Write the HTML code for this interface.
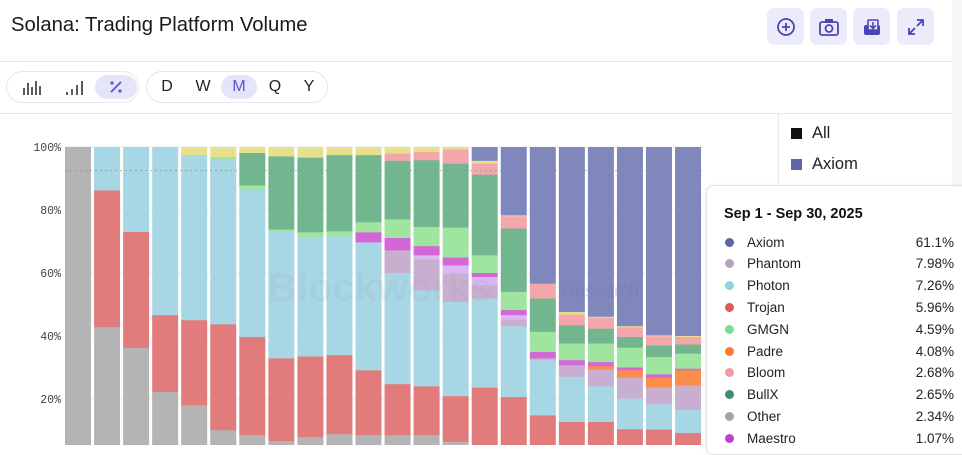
<!DOCTYPE html>
<html><head><meta charset="utf-8">
<style>
*{box-sizing:border-box;margin:0;padding:0}
body{width:962px;height:445px;overflow:hidden;background:#fff;font-family:"Liberation Sans",sans-serif;position:relative}
.abs{position:absolute}
.title{left:11px;top:14px;font-size:20.3px;color:#1a1a1a}
.ibtn{top:8px;width:37px;height:37px;border-radius:7px;background:#ebebfb;display:flex;align-items:center;justify-content:center}
.pill{top:71px;height:32px;border:1px solid #e6e6ee;border-radius:16px;display:flex;align-items:center}
.pi{height:24px;border-radius:12px;display:flex;align-items:center;justify-content:center;font-size:16px;color:#222}
.sel{background:#e5e5fa;color:#5a56c8}
.tt{left:706px;top:185px;width:270px;height:270px;background:#fff;border:1px solid #e4e4e4;border-radius:8px;box-shadow:0 1px 6px rgba(0,0,0,.08)}
.row{position:absolute;left:18px;width:229px;font-size:13.5px;color:#222;height:20px;display:flex;align-items:center}
.row .d{width:9px;height:9px;border-radius:50%;margin-right:13px}
.row .v{margin-left:auto}
</style></head><body>
<div class="abs title">Solana: Trading Platform Volume</div>
<div class="abs ibtn" style="left:767px"><svg width="20" height="20"><circle cx="10" cy="10" r="8" fill="none" stroke="#4a45b5" stroke-width="1.8"/><path d="M10 6v8M6 10h8" stroke="#4a45b5" stroke-width="1.8"/></svg></div>
<div class="abs ibtn" style="left:810px"><svg width="22" height="20"><rect x="2" y="5" width="18" height="13" rx="2" fill="none" stroke="#4a45b5" stroke-width="1.8"/><rect x="7" y="2" width="8" height="4" fill="#4a45b5"/><circle cx="11" cy="11.5" r="3.5" fill="none" stroke="#4a45b5" stroke-width="1.8"/></svg></div>
<div class="abs ibtn" style="left:853px"><svg width="22" height="20"><rect x="3" y="8" width="16" height="10" rx="2" fill="#4a45b5"/><rect x="7" y="3" width="10" height="10" rx="1" fill="#ebebfb" stroke="#4a45b5" stroke-width="1.6"/><path d="M12 5v6M9 8.5l3 3 3-3" stroke="#4a45b5" stroke-width="1.6" fill="none"/></svg></div>
<div class="abs ibtn" style="left:897px"><svg width="20" height="20"><path d="M11 3h6v6M17 3l-6 6M9 17H3v-6M3 17l6-6" stroke="#4a45b5" stroke-width="1.8" fill="none"/></svg></div>
<div class="abs" style="left:0;top:61px;width:952px;height:1px;background:#e8e8e8"></div>
<div class="abs" style="left:0;top:113px;width:952px;height:1px;background:#e8e8e8"></div>
<div class="abs" style="left:952px;top:0;width:10px;height:445px;background:#f7f7f7"></div>
<div class="abs pill" style="left:6px;width:133px">
 <div class="pi" style="width:38px;margin-left:6px"><svg width="20" height="16"><path d="M2 16V9M6 16V4M10 16V8M14 16V2M18 16V7" stroke="#333" stroke-width="1.6"/></svg></div>
 <div class="pi" style="width:38px;margin-left:4px"><svg width="20" height="16"><path d="M3 16v-3M8 16v-6M13 16V6M18 16V2" stroke="#333" stroke-width="1.6"/></svg></div>
 <div class="pi sel" style="width:42px;margin-left:2px"><svg width="16" height="16"><path d="M13 3L3 13" stroke="#5a56c8" stroke-width="1.8"/><circle cx="4" cy="4" r="1.6" fill="#5a56c8"/><circle cx="12" cy="12" r="1.6" fill="#5a56c8"/></svg></div>
</div>
<div class="abs pill" style="left:146px;width:182px">
 <div class="pi" style="width:36px;margin-left:2px">D</div>
 <div class="pi" style="width:36px">W</div>
 <div class="pi sel" style="width:36px">M</div>
 <div class="pi" style="width:36px">Q</div>
 <div class="pi" style="width:32px">Y</div>
</div>
<div class="abs" style="left:778px;top:113px;width:1px;height:80px;background:#e8e8e8"></div>
<div class="abs" style="left:791px;top:124px;font-size:16.5px;color:#222;display:flex;align-items:center"><span style="width:11px;height:11px;background:#111;margin-right:10px"></span>All</div>
<div class="abs" style="left:791px;top:155px;font-size:16.5px;color:#222;display:flex;align-items:center"><span style="width:11px;height:11px;background:#5f63a8;margin-right:10px"></span>Axiom</div>

<svg id="chart" class="abs" style="left:0;top:113px" width="706" height="332"></svg>

<div class="abs tt">
 <div style="position:absolute;left:17px;top:20px;font-size:14.5px;font-weight:bold;color:#111">Sep 1 - Sep 30, 2025</div>
 <div id="rows"></div>
</div>

<script>
const categories=["2024-04","2024-05","2024-06","2024-07","2024-08","2024-09","2024-10","2024-11","2024-12","2025-01","2025-02","2025-03","2025-04","2025-05","2025-06","2025-07","2025-08","2025-09a","2025-09","2025-10","2025-11","2025-12"];
const seriesNames=["Other","Trojan","Photon","Phantom","Padre","Moonshot","Maestro","GMGN","BullX","Bloom","Banana","Axiom"];
const seriesColors=["#b4b4b4","#e27c7c","#a7d7e4","#c9afcf","#fb8c4c","#d9b8f4","#d566d8","#9fe5a0","#72b690","#f4a7ab","#e6e08c","#7f87bc"];
const other=[100,42.9,36.3,22.3,18.1,10.2,8.6,6.7,8.0,8.9,8.6,8.6,8.6,6.5,2,1,0.5,0.5,0.5,0.5,0.5,0.5];
const trojan=[0,43.4,36.8,24.4,27.0,33.6,31.2,26.3,25.6,25.1,20.6,16.2,15.5,14.5,21.7,19.7,14.4,12.3,12.3,10.0,9.9,8.8];
const photon=[0,13.7,26.9,53.3,52.4,52.1,46.8,40.3,37.7,37.7,40.6,35.3,30.5,29.9,28.3,22.5,17.5,14.3,11.3,9.7,8.0,7.4];
const phantom=[0,0,0,0,0,0,0,0,0,0,0,7.2,9.8,9.0,4.2,2.1,0.6,3.7,5.3,6.7,5.3,7.7];
const padre=[0,0,0,0,0,0,0,0,0,0,0,0,0,0,0,0,0,0,1.1,2.3,3.2,4.8];
const moonshot=[0,0,0,0,0,0,0,0,0,0,0,0,1.3,2.6,2.6,1.4,0,0,0,0,0,0];
const maestro=[0,0,0,0,0,0,0,0,0,0,3.2,3.9,2.9,2.5,1.3,1.6,2.0,1.6,1.3,0.9,1.0,0.5];
const gmgn=[0,0,0,0,0,1.0,1.3,0.6,1.7,1.6,3.2,5.9,6.1,9.5,5.6,5.8,6.4,5.3,5.9,6.3,5.5,4.8];
const bullx=[0,0,0,0,0,0,10.3,23.2,23.7,24.2,21.3,18.6,21.2,20.3,25.6,20.1,10.6,5.8,4.7,3.4,3.7,2.9];
const bloom=[0,0,0,0,0,0,0,0,0,0,0,2.3,2.6,4.5,3.5,3.9,4.7,3.4,3.5,3.0,2.9,2.4];
const banana=[0,0,0,0,2.5,3.1,1.8,2.9,3.3,2.5,2.5,2.0,1.5,0.7,0.9,0.3,0,0.8,0.3,0.4,0.3,0.3];
const axiom=[0,0,0,0,0,0,0,0,0,0,0,0,0,0,4.3,21.6,43.3,52.3,53.8,56.8,59.7,59.9];
const yTicks=[20,40,60,80,100];
const tipNames=["Axiom","Phantom","Photon","Trojan","GMGN","Padre","Bloom","BullX","Other","Maestro"];
const tipColors=["#5f63a8","#b7a4bd","#8fd3dc","#d95b5b","#7fdc8e","#fb7a2e","#f29aa3","#3f8d6a","#a4a4a4","#c13fcc"];
const tipValues=["61.1%","7.98%","7.26%","5.96%","4.59%","4.08%","2.68%","2.65%","2.34%","1.07%"];

const series=[other,trojan,photon,phantom,padre,moonshot,maestro,gmgn,bullx,bloom,banana,axiom];
const NS="http://www.w3.org/2000/svg";
const svg=document.getElementById('chart');
const y=v=>349-v*3.15;
const x=i=>65+i*29.05;
const bw=26;
function mk(t,a){const e=document.createElementNS(NS,t);for(const k in a)e.setAttribute(k,a[k]);return e;}
yTicks.forEach(t=>{
  const g=mk('line',{x1:65,x2:702,y1:y(t),y2:y(t),stroke:'#ececec'});
  
  
  svg.appendChild(g);
  const tx=mk('text',{x:61,y:y(t)+4,'text-anchor':'end','font-family':'Liberation Mono, monospace','font-size':11.5,fill:'#444'});
  tx.textContent=t+'%';
  
  
  svg.appendChild(tx);
});
categories.forEach((c,i)=>{
  let tot=0;series.forEach(s=>tot+=s[i]);
  let cum=0;
  series.forEach((s,k)=>{
    const v=s[i]/tot*100;if(v<=0)return;
    const r=mk('rect',{x:x(i),width:bw,y:y(cum+v),height:v*3.15+0.3,fill:seriesColors[k]});
    
    
    svg.appendChild(r);
    cum+=v;
  });
});
const wm=mk('text',{x:268,y:188,'font-size':40,'font-weight':'bold',fill:'#9aa0b8','fill-opacity':0.12});
wm.textContent='Blockworks';


svg.appendChild(wm);
const wm2=mk('text',{x:562,y:184,'font-size':18,fill:'#6a6fa0','fill-opacity':0.25});
wm2.textContent='Research';


svg.appendChild(wm2);
const ref=mk('line',{x1:65,x2:702,y1:y(92.5),y2:y(92.5),stroke:'#888','stroke-dasharray':'2,3','stroke-opacity':0.6});


svg.appendChild(ref);
const rows=document.getElementById('rows');
tipNames.forEach((n,i)=>{
  const r=document.createElement('div');
  r.className='row';r.style.top=(46+i*21.8)+'px';
  r.innerHTML='<span class="d" style="background:'+tipColors[i]+'"></span>'+n+'<span class="v">'+tipValues[i]+'</span>';
  
  
  rows.appendChild(r);
});
</script>
</body></html>
